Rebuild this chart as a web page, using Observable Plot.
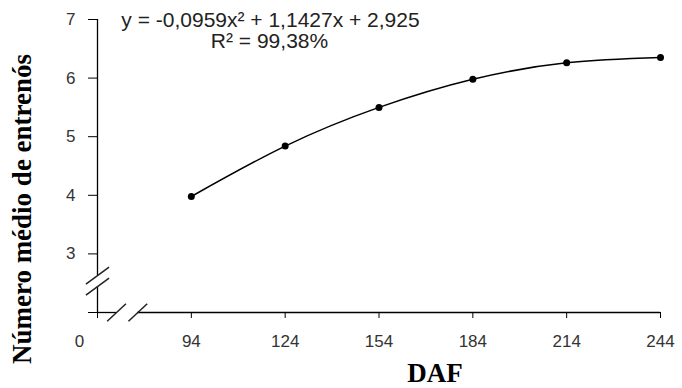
<!DOCTYPE html>
<html><head><meta charset="utf-8">
<script src="https://cdn.jsdelivr.net/npm/d3@7"></script>
<script src="https://cdn.jsdelivr.net/npm/@observablehq/plot@0.6"></script>
<style>body{margin:0;background:#fff}</style>
</head><body><div id="chart"></div>
<script>
// Data
const daf = [94, 124, 154, 184, 214, 244];
const entrenos = [3.98, 4.84, 5.50, 5.98, 6.26, 6.35];
const xTicks = [64, 94, 124, 154, 184, 214, 244];
const xTickLabels = ["", "94", "124", "154", "184", "214", "244"];
const yTicks = [2, 3, 4, 5, 6, 7];
const yTickLabels = ["", "3", "4", "5", "6", "7"];
const originLabel = "0";
const equation = "y = -0,0959x² + 1,1427x + 2,925";
const r2Text = "R² = 99,38%";
const xTitle = "DAF";
const yTitle = "Número médio de entrenós";
// axis-break slash centres (data units)
const yBreaks = [2.63, 2.44];
const xBreaks = [70.1, 76.9];

const points = daf.map((d, i) => ({daf: d, v: entrenos[i]}));
const sans = "'Liberation Sans', Arial, sans-serif";
const serif = "'Liberation Serif', 'Times New Roman', serif";

const plot = Plot.plot({
  width: 682,
  height: 388,
  marginLeft: 97,
  marginRight: 22,
  marginTop: 19,
  marginBottom: 76,
  style: {fontFamily: sans, background: "#fff"},
  x: {domain: [64, 244], axis: null},
  y: {domain: [2, 7], axis: null},
  marks: [
    // axis lines with break gaps
    Plot.ruleX([64], {y1: 2, y2: yBreaks[1], stroke: "black", strokeWidth: 1.3}),
    Plot.ruleX([64], {y1: yBreaks[0], y2: 7, stroke: "black", strokeWidth: 1.3}),
    Plot.ruleY([2], {x1: 64, x2: xBreaks[0], stroke: "black", strokeWidth: 1.3}),
    Plot.ruleY([2], {x1: xBreaks[1], x2: 244, stroke: "black", strokeWidth: 1.3}),
    // break slashes
    Plot.link(yBreaks, {x1: () => 64 - 3.7, x2: () => 64 + 3.7, y1: d => d - 0.145, y2: d => d + 0.145, stroke: "#222", strokeWidth: 1.5}),
    Plot.link(xBreaks, {x1: d => d - 3.0, x2: d => d + 3.0, y1: () => 2 - 0.15, y2: () => 2 + 0.15, stroke: "#222", strokeWidth: 1.5}),
    Plot.axisY({ticks: yTicks, tickFormat: (d) => yTickLabels[yTicks.indexOf(d)], tickSize: 9, tickPadding: 13,
      fontSize: 17, stroke: "black", fill: "#333", label: null}),
    Plot.axisX({ticks: xTicks, tickFormat: (d) => xTickLabels[xTicks.indexOf(d)], tickSize: 6, tickPadding: 16,
      fontSize: 17, stroke: "black", fill: "#333", label: null}),
    Plot.text([originLabel], {x: () => 64, y: () => 2, dx: -18, dy: 22, lineAnchor: "top", fontSize: 17, fill: "#333"}),
    Plot.line(points, {x: "daf", y: "v", curve: "natural", stroke: "black", strokeWidth: 1.5}),
    Plot.dot(points, {x: "daf", y: "v", r: 3.5, fill: "black"}),
    Plot.text([equation], {frameAnchor: "top-left", dx: 173, dy: 1, textAnchor: "middle", lineAnchor: "middle", fontSize: 21, fill: "#222"}),
    Plot.text([r2Text], {frameAnchor: "top-left", dx: 172, dy: 22, textAnchor: "middle", lineAnchor: "middle", fontSize: 21, fill: "#222"}),
    Plot.text([xTitle], {frameAnchor: "bottom", dx: 56, dy: 61, textAnchor: "middle", lineAnchor: "middle", fontSize: 27, fontWeight: "bold", fontFamily: serif, fill: "black"}),
    Plot.text([yTitle], {frameAnchor: "left", dx: -75, dy: 43, rotate: -90, textAnchor: "middle", lineAnchor: "middle", fontSize: 27, fontWeight: "bold", fontFamily: serif, fill: "black"})
  ]
});
document.getElementById("chart").appendChild(plot);
</script>
</body></html>
